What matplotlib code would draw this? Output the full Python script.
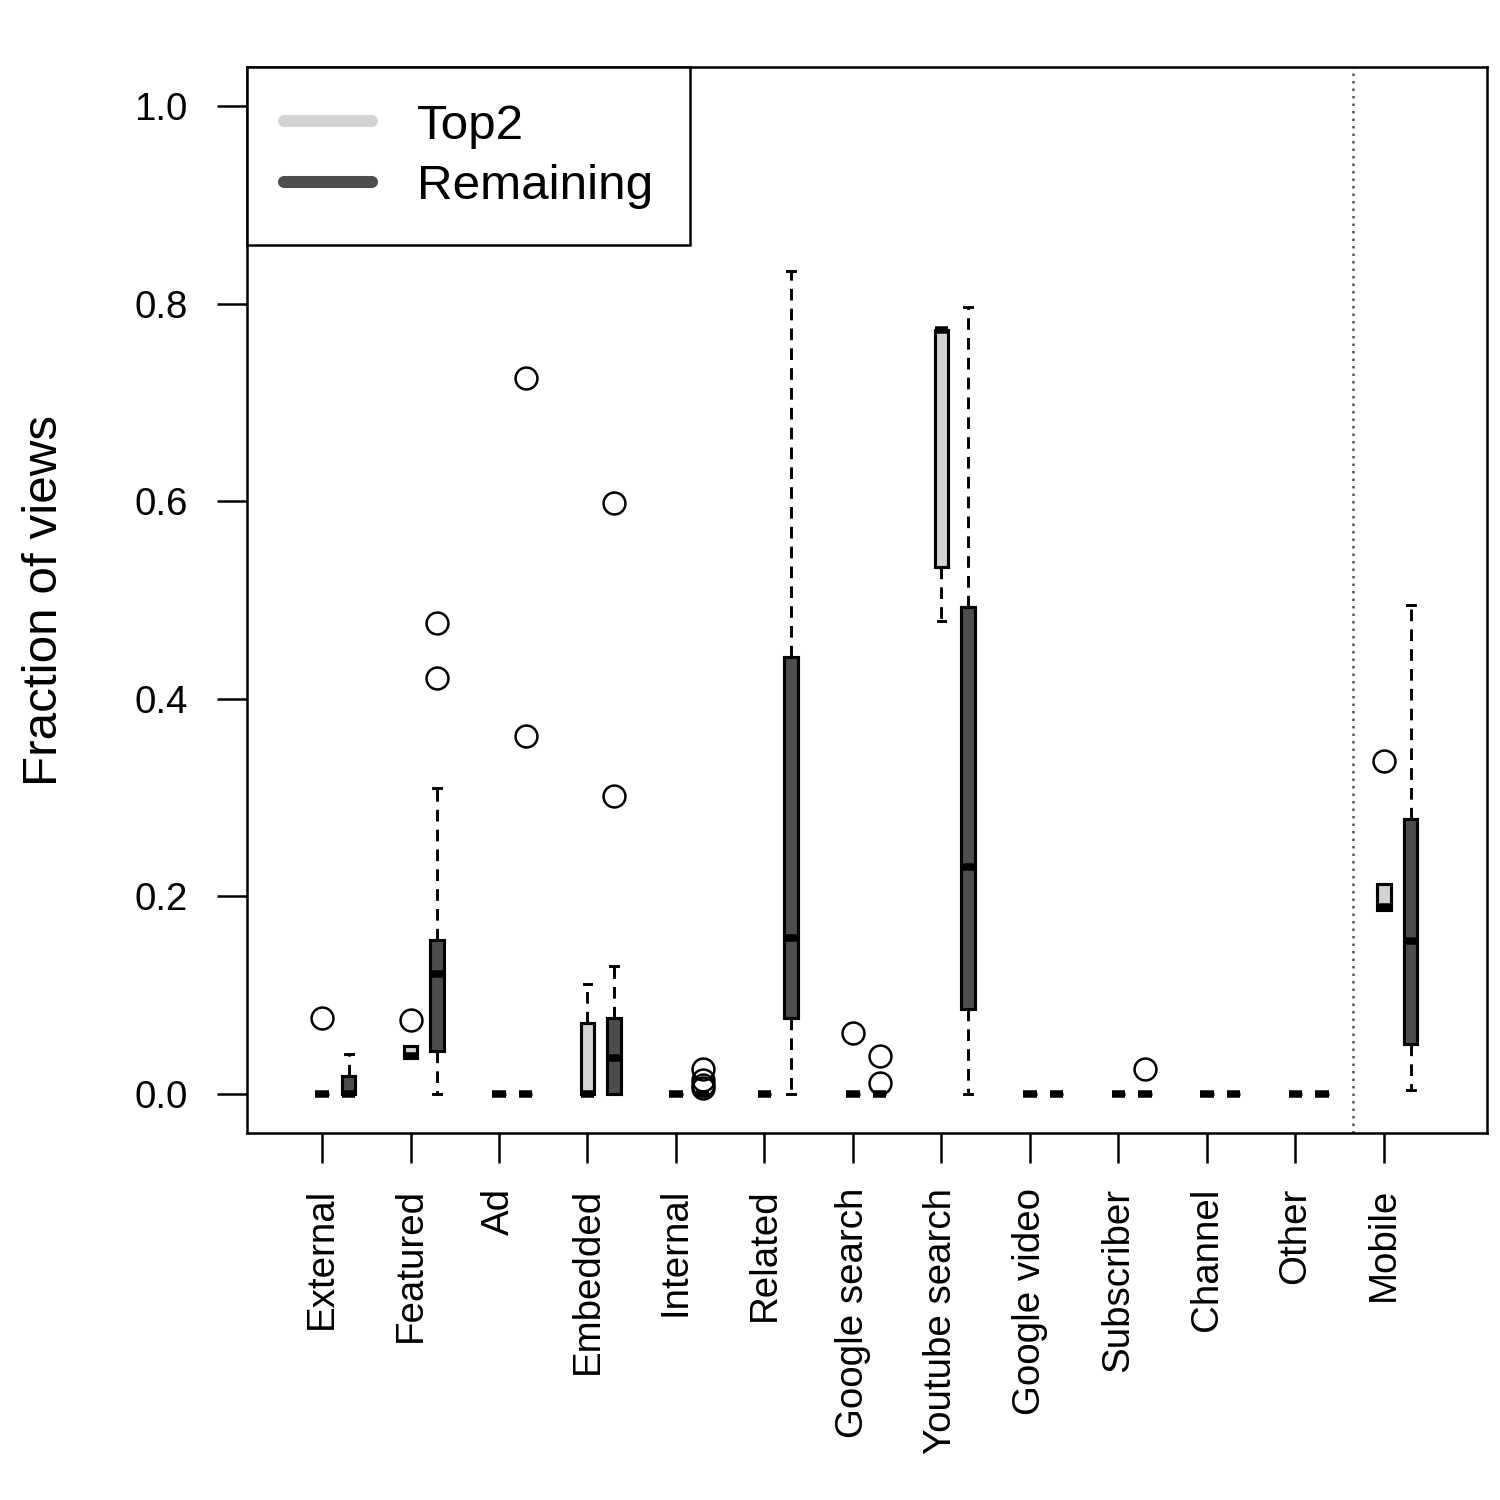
import matplotlib
matplotlib.use("Agg")
import matplotlib.pyplot as plt
from matplotlib.lines import Line2D

plt.rcParams.update({"font.family": ["Liberation Sans", "DejaVu Sans"], "font.size": 18.5})
CLARO, ESCURO = "#d3d3d3", "#4d4d4d"

# ── Data ─────────────────────────────────────────────────────────────────────
categorias = ["External", "Featured", "Ad", "Embedded", "Internal", "Related",
              "Google search", "Youtube search", "Google video", "Subscriber",
              "Channel", "Other", "Mobile"]

top2_lo  = [0, 0.036, 0, 0,     0, 0, 0,     0.479, 0, 0, 0, 0, 0.186]
top2_q1  = [0, 0.036, 0, 0,     0, 0, 0,     0.533, 0, 0, 0, 0, 0.186]
top2_med = [0, 0.038, 0, 0,     0, 0, 0,     0.774, 0, 0, 0, 0, 0.189]
top2_q3  = [0, 0.048, 0, 0.071, 0, 0, 0,     0.774, 0, 0, 0, 0, 0.212]
top2_hi  = [0, 0.048, 0, 0.111, 0, 0, 0,     0.774, 0, 0, 0, 0, 0.212]
top2_out = [[0.077], [0.074], [], [], [], [], [0.061], [], [], [], [], [], [0.337]]

rem_lo  = [0,      0,      0, 0,     0, 0,     0, 0,     0, 0, 0, 0, 0.004]
rem_q1  = [0,      0.0435, 0, 0,     0, 0.077, 0, 0.086, 0, 0, 0, 0, 0.0505]
rem_med = [0,      0.121,  0, 0.036, 0, 0.158, 0, 0.229, 0, 0, 0, 0, 0.155]
rem_q3  = [0.0175, 0.156,  0, 0.077, 0, 0.442, 0, 0.493, 0, 0, 0, 0, 0.278]
rem_hi  = [0.040,  0.310,  0, 0.129, 0, 0.833, 0, 0.797, 0, 0, 0, 0, 0.495]
rem_out = [[], [0.421, 0.477], [0.362, 0.725], [0.301, 0.598],
           [0.025, 0.014, 0.009, 0.006], [], [0.038, 0.011], [], [],
           [0.025], [], [], []]

pos = list(range(1, len(categorias) + 1))


def stats(lo, q1, med, q3, hi, out):
    return [dict(whislo=a, q1=b, med=c, q3=d, whishi=e, fliers=f)
            for a, b, c, d, e, f in zip(lo, q1, med, q3, hi, out)]


def desenha(ax, st, x, cor):
    ax.bxp(st, positions=x, widths=0.15, capwidths=0.09, patch_artist=True,
           manage_ticks=False,
           boxprops=dict(facecolor=cor, edgecolor="black", linewidth=1.5),
           medianprops=dict(color="black", linewidth=3.6, solid_capstyle="butt"),
           whiskerprops=dict(color="black", linewidth=1.4, linestyle=(0, (4, 2.8))),
           capprops=dict(color="black", linewidth=1.4),
           flierprops=dict(marker="o", markersize=10.5, markerfacecolor="none",
                           markeredgecolor="black", markeredgewidth=1.2))


# ── Figure ───────────────────────────────────────────────────────────────────
fig = plt.figure(figsize=(10, 10), dpi=150)
ax = fig.add_axes([247 / 1500, 1 - 1133 / 1500, 1240 / 1500, 1066 / 1500])

desenha(ax, stats(top2_lo, top2_q1, top2_med, top2_q3, top2_hi, top2_out), pos, CLARO)
desenha(ax, stats(rem_lo, rem_q1, rem_med, rem_q3, rem_hi, rem_out),
        [p + 0.3 for p in pos], ESCURO)

ax.axvline(12.65, color="#555555", lw=1.2, ls=(0, (1, 2)))

ax.set_xlim(0.1525, 14.164)
ax.set_ylim(-0.04, 1.04)
ax.set_xticks(pos)
ax.set_xticklabels(categorias, rotation=90, va="top")
ax.set_yticks([0, 0.2, 0.4, 0.6, 0.8, 1.0])
ax.set_yticklabels(["0.0", "0.2", "0.4", "0.6", "0.8", "1.0"])
ax.tick_params(length=14.4, width=1.2, pad=14)
ax.tick_params(axis="x", pad=12)
for s in ax.spines.values():
    s.set_linewidth(1.2)

ax.set_ylabel("Fraction of views", fontsize=23.7, va="center")
ax.yaxis.set_label_coords((45 - 247) / 1240, 0.5)

maos = [Line2D([], [], color=CLARO, lw=5.8, solid_capstyle="round"),
        Line2D([], [], color=ESCURO, lw=5.8, solid_capstyle="round")]
leg = ax.legend(maos, ["Top2", "Remaining"], loc="upper left", bbox_to_anchor=(0, 1),
                borderaxespad=0, fontsize=23.7, fancybox=False, framealpha=1,
                edgecolor="black", handlelength=1.8, handletextpad=0.9,
                borderpad=0.74, labelspacing=0.31)
leg.get_frame().set_linewidth(1.2)

fig.savefig("out.png", dpi=150)
